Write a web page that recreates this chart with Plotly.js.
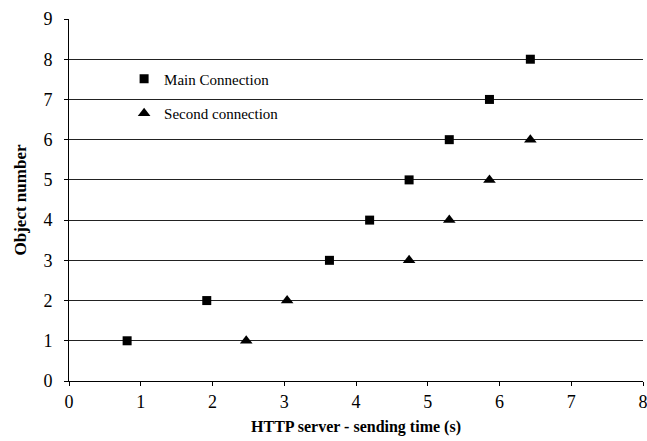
<!DOCTYPE html>
<html>
<head>
<meta charset="utf-8">
<script src="https://cdn.plot.ly/plotly-3.0.1.min.js"></script>
<style>
  html, body { margin: 0; padding: 0; background: #fff; }
  #chart { width: 647px; height: 441px; }
</style>
</head>
<body>
<div id="chart"></div>
<script>
// Sending times (s) of each object on the two HTTP connections
const mainTimes = [0.81, 1.92, 3.63, 4.19, 4.74, 5.30, 5.86, 6.43];
const mainObjects = [1, 2, 3, 4, 5, 6, 7, 8];
const secondTimes = [2.47, 3.04, 4.74, 5.30, 5.86, 6.43];
const secondObjects = [1, 2, 3, 4, 5, 6];

const xTicks = [0, 1, 2, 3, 4, 5, 6, 7, 8];
const yTicks = [0, 1, 2, 3, 4, 5, 6, 7, 8, 9];

const serif = '"Liberation Serif", "Times New Roman", serif';

const traces = [
  {
    x: mainTimes, y: mainObjects, name: 'Main Connection',
    type: 'scatter', mode: 'markers', legendgroup: 'a',
    marker: { symbol: 'square', size: 9, color: '#000' },
    cliponaxis: false
  },
  {
    x: secondTimes, y: secondObjects, name: 'Second connection',
    type: 'scatter', mode: 'markers', legendgroup: 'b',
    marker: { symbol: 'triangle-up', size: 11, color: '#000' },
    cliponaxis: false
  }
];

const layout = {
  width: 647, height: 441,
  margin: { l: 69, r: 4, t: 19, b: 60 },
  paper_bgcolor: '#fff', plot_bgcolor: '#fff',
  font: { family: serif, color: '#000', size: 16 },
  showlegend: true,
  legend: {
    x: 0.096, y: 0.88, xanchor: 'left', yanchor: 'top',
    bgcolor: 'rgba(255,255,255,0)',
    font: { family: serif, size: 15, color: '#000' },
    itemwidth: 30, tracegroupgap: 12
  },
  xaxis: {
    range: [0, 8], tickvals: xTicks, ticktext: xTicks.map(String),
    showgrid: false, zeroline: false,
    showline: true, linecolor: '#000', linewidth: 1,
    ticks: 'outside', ticklen: 4, tickcolor: '#000',
    ticklabeloverflow: 'allow',
    tickfont: { family: serif, size: 18 },
    title: { text: '<b>HTTP server - sending time (s)</b>', font: { family: serif, size: 16 }, standoff: 10 }
  },
  yaxis: {
    range: [0, 9], tickvals: yTicks, ticktext: yTicks.map(String),
    showgrid: true, gridcolor: '#222', gridwidth: 1,
    zeroline: false,
    showline: true, linecolor: '#000', linewidth: 1,
    ticks: 'outside', ticklen: 4, tickcolor: '#000',
    ticklabelstandoff: 8,
    tickfont: { family: serif, size: 18 },
    title: { text: '<b>Object number</b>', font: { family: serif, size: 17 }, standoff: 12 }
  }
};

Plotly.newPlot('chart', traces, layout, { displayModeBar: false, staticPlot: true });
</script>
</body>
</html>
